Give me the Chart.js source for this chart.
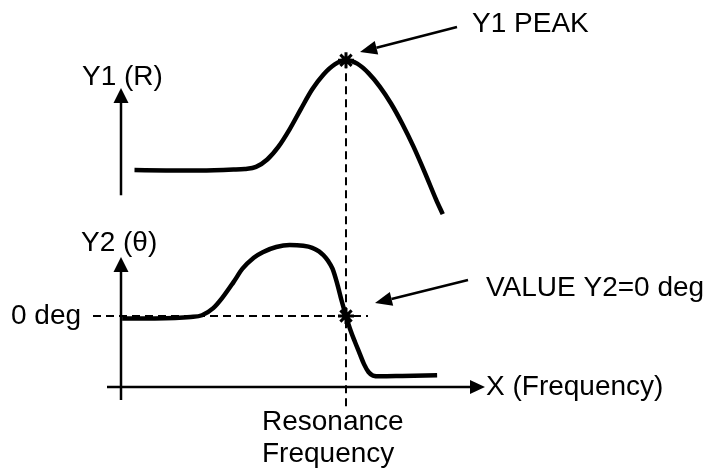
<!DOCTYPE html>
<html>
<head>
<meta charset="utf-8">
<script src="https://cdn.jsdelivr.net/npm/chart.js@4"></script>
<style>
  html, body { margin: 0; padding: 0; background: #fff; }
  canvas { display: block; }
</style>
</head>
<body>
<canvas id="resonanceChart" width="704" height="468"></canvas>
<script>
// Y1 (R): magnitude against frequency, peak at resonance
const freqY1 = [0.6, 2, 3.5, 5, 5.5, 6, 6.5, 7, 7.5, 8, 8.5, 9, 9.5, 10, 10.5, 11, 11.5, 12, 12.5, 13, 13.5, 14, 14.3];
const valuesY1 = [18.7, 18.4, 18.3, 19, 19.5, 21, 26.5, 36, 49, 64, 78.5, 89.5, 97, 100, 97.5, 90.5, 80.5, 68, 53, 36, 17, -3, -14];

// Y2 (theta) in degrees, crossing 0 deg at resonance
const freqY2 = [0.05, 1.5, 3.1, 3.6, 4.1, 4.5, 5, 5.4, 5.9, 6.3, 6.9, 7.5, 8.1, 8.5, 8.8, 9, 9.2, 9.4, 9.6, 9.8, 10, 10.2, 10.4, 10.6, 10.8, 11, 11.2, 11.5, 12.5, 14.05];
const valuesY2 = [-3, -3, -1.3, 1, 10, 23, 43, 60, 74, 81, 87.5, 90, 89, 86.5, 82, 77, 70, 60, 42, 20, 0, -18, -33, -47, -61, -71, -75.5, -76.5, -76, -75];

const resonanceFreq = 10;
const peakY1 = 100;
const zeroY2 = 0;

const labelY1 = 'Y1 (R)';
const labelY2 = 'Y2 (\u03b8)';
const labelX = 'X (Frequency)';
const labelZero = '0 deg';
const labelPeak = 'Y1 PEAK';
const labelCross = 'VALUE Y2=0 deg';
const labelResonance = ['Resonance', 'Frequency'];

const toPoints = (xs, ys) => xs.map((v, i) => ({ x: v, y: ys[i] }));

function line(ctx, x1, y1, x2, y2) {
  ctx.beginPath();
  ctx.moveTo(x1, y1);
  ctx.lineTo(x2, y2);
  ctx.stroke();
}

// straight line with a filled triangular head at (x2, y2)
function arrow(ctx, x1, y1, x2, y2, len, half) {
  const a = Math.atan2(y2 - y1, x2 - x1);
  const bx = x2 - len * Math.cos(a), by = y2 - len * Math.sin(a);
  line(ctx, x1, y1, bx, by);
  ctx.beginPath();
  ctx.moveTo(x2, y2);
  ctx.lineTo(bx + half * Math.sin(a), by - half * Math.cos(a));
  ctx.lineTo(bx - half * Math.sin(a), by + half * Math.cos(a));
  ctx.closePath();
  ctx.fill();
}

const sketch = {
  id: 'sketch',
  beforeDatasetsDraw(chart) {
    const { ctx, scales: { x, y1, y2 } } = chart;
    const xr = x.getPixelForValue(resonanceFreq);
    const x0 = x.getPixelForValue(0);
    const yZero = y2.getPixelForValue(zeroY2);
    const yBase = y2.getPixelForValue(-90);

    ctx.save();
    ctx.strokeStyle = '#000';
    ctx.fillStyle = '#000';

    // guide lines through the two marked points
    ctx.lineWidth = 2;
    ctx.setLineDash([8, 5]);
    line(ctx, xr, y1.getPixelForValue(peakY1), xr, 410);
    line(ctx, 93, yZero, 368, yZero);
    ctx.setLineDash([]);

    // axes
    ctx.lineWidth = 2.5;
    arrow(ctx, x0, y1.getPixelForValue(0), x0, 88, 15, 7.5);
    arrow(ctx, x0, 400, x0, 257, 15, 7.5);
    arrow(ctx, 107, yBase, 485, yBase, 15, 7);
    ctx.restore();
  },
  afterDraw(chart) {
    const { ctx } = chart;
    ctx.save();
    ctx.strokeStyle = '#000';
    ctx.fillStyle = '#000';
    ctx.lineWidth = 2.5;
    arrow(ctx, 457, 27, 360, 52, 17, 7);
    arrow(ctx, 468, 280, 375, 303, 17, 7);

    ctx.font = '28px "Liberation Sans", Arial, sans-serif';
    ctx.textBaseline = 'middle';
    ctx.textAlign = 'left';
    ctx.fillText(labelY1, 82, 77);
    ctx.fillText(labelY2, 81, 243);
    ctx.fillText(labelZero, 11, 316);
    ctx.fillText(labelPeak, 472, 24);
    ctx.fillText(labelCross, 486, 288);
    ctx.fillText(labelX, 486, 387);
    ctx.fillText(labelResonance[0], 262, 422);
    ctx.fillText(labelResonance[1], 262, 454);
    ctx.restore();
  }
};

const curve = {
  borderColor: '#000',
  borderWidth: 4.5,
  pointRadius: 0,
  fill: false,
  cubicInterpolationMode: 'monotone'
};

const marker = {
  showLine: false,
  pointStyle: 'star',
  pointRadius: 8,
  pointBorderWidth: 3,
  pointBorderColor: '#000',
  pointBackgroundColor: '#000'
};

new Chart(document.getElementById('resonanceChart').getContext('2d'), {
  type: 'line',
  data: {
    datasets: [
      Object.assign({ label: 'Y1 peak', data: [{ x: resonanceFreq, y: peakY1 }], yAxisID: 'y1' }, marker),
      Object.assign({ label: 'Y2 = 0 deg', data: [{ x: resonanceFreq, y: zeroY2 }], yAxisID: 'y2' }, marker),
      Object.assign({ label: 'Y1 (R)', data: toPoints(freqY1, valuesY1), yAxisID: 'y1' }, curve),
      Object.assign({ label: 'Y2 (theta)', data: toPoints(freqY2, valuesY2), yAxisID: 'y2' }, curve)
    ]
  },
  options: {
    responsive: false,
    devicePixelRatio: 1,
    animation: false,
    layout: { padding: { left: 121, right: 133, top: 40, bottom: 81 } },
    plugins: { legend: { display: false }, tooltip: { enabled: false } },
    scales: {
      x: { type: 'linear', min: 0, max: 20, display: false },
      y1: { type: 'linear', min: -142, max: 115, display: false },
      y2: { type: 'linear', min: -90, max: 350, display: false }
    }
  },
  plugins: [sketch]
});
</script>
</body>
</html>
